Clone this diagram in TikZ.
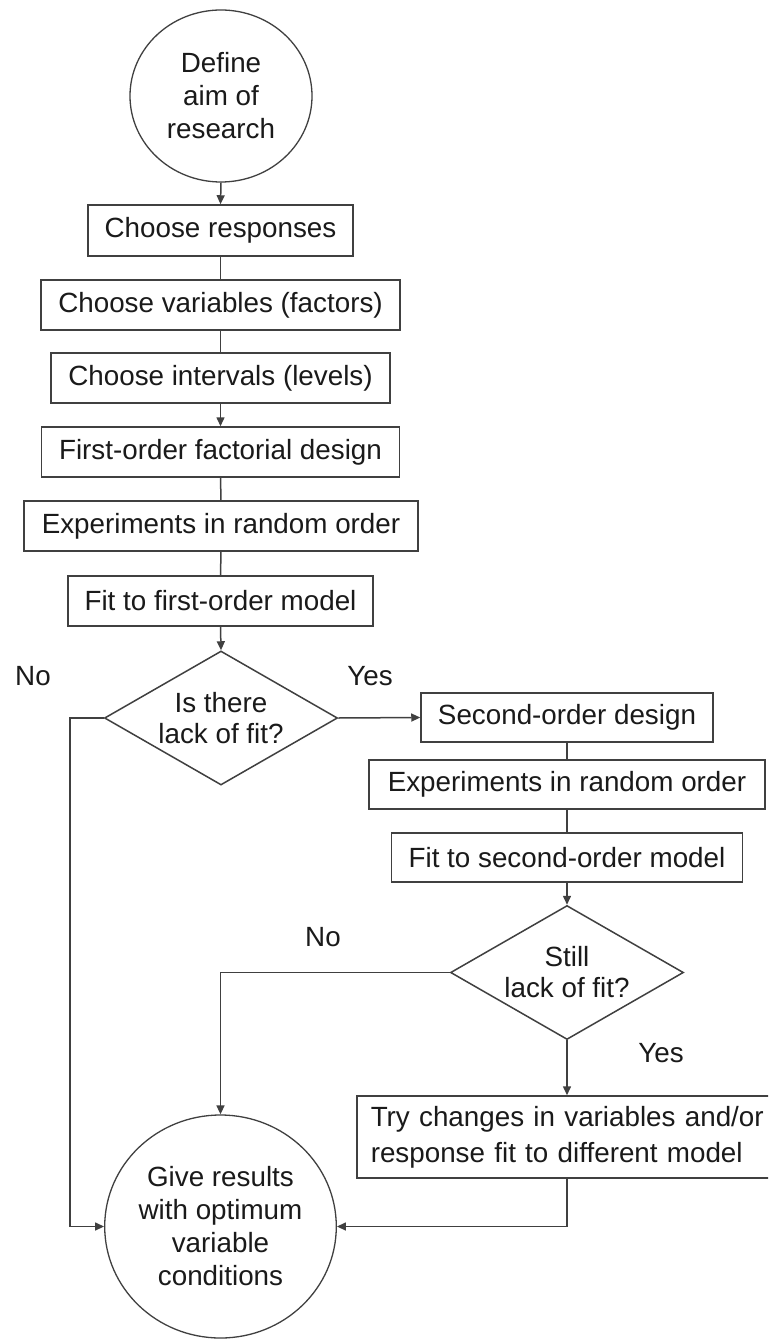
\documentclass[tikz,border=0pt]{standalone}
\usepackage{fontspec}
\setmainfont{Liberation Sans}
\usetikzlibrary{shapes.geometric,arrows.meta}
\definecolor{linec}{HTML}{404040}
\definecolor{textc}{HTML}{1A1A1A}
\begin{document}
\begin{tikzpicture}[x=1pt,y=-1pt,
  every node/.style={text=textc,font=\fontsize{27.8}{33}\selectfont},
  stepbox/.style={draw=linec,line width=1.5pt,rectangle,inner sep=0pt,align=center},
  decbox/.style={draw=linec,line width=1.5pt,diamond,aspect=1.74,inner sep=0pt,align=center,minimum width=233pt,minimum height=134pt},
  termbox/.style={draw=linec,line width=1.3pt,ellipse,inner sep=0pt,align=center},
  conn/.style={draw=linec,line width=1.5pt},
  arr/.style={conn,-{Triangle[length=9pt,width=8pt]}},
  lbl/.style={font=\fontsize{27.8}{33}\selectfont}]
\useasboundingbox (0,0) rectangle (768,1340);
\clip (0,0) rectangle (768,1340);
\fill[white] (0,0) rectangle (768,1340);

\node[termbox,minimum width=182pt,minimum height=172pt] (top) at (221,96) {Define\\aim of\\research};
\node[stepbox,minimum width=265pt,minimum height=51pt] (resp) at (220.5,230.5) {Choose responses};
\node[stepbox,minimum width=359pt,minimum height=50pt] (vars) at (220.5,305) {Choose variables (factors)};
\node[stepbox,minimum width=339pt,minimum height=50pt] (ints) at (220.5,378) {Choose intervals (levels)};
\node[stepbox,minimum width=358pt,minimum height=50pt] (first) at (220.5,452) {First-order factorial design};
\node[stepbox,minimum width=394pt,minimum height=50pt] (exp1) at (221,526) {Experiments in random order};
\node[stepbox,minimum width=305pt,minimum height=50pt] (fit1) at (220.5,601) {Fit to first-order model};
\node[decbox] (d1) at (221,718) {Is there\\[-2pt]lack of fit?};

\node[stepbox,minimum width=292pt,minimum height=49pt] (sec) at (567,717.5) {Second-order design};
\node[stepbox,minimum width=396pt,minimum height=49pt] (exp2) at (567,784.5) {Experiments in random order};
\node[stepbox,minimum width=351pt,minimum height=49pt] (fit2) at (567,857.5) {Fit to second-order model};
\node[decbox] (d2) at (567,972.5) {Still\\[-2pt]lack of fit?};
\node[stepbox,anchor=west,align=left,inner xsep=14pt,text width=400pt,minimum height=82pt,font=\fontsize{27.8}{36}\selectfont] (try) at (356,1137) {Try changes in variables and/or\\response fit to different model};

\node[termbox,minimum width=225pt,minimum height=223pt] (bot) at (220.5,1226.5) {Give results\\with optimum\\variable\\conditions};

\node[lbl] (no1) at (33,676) {No};
\node[lbl] (yes1) at (370,676) {Yes};
\node[lbl] (no2) at (323,937) {No};
\node[lbl] (yes2) at (661,1053) {Yes};

\coordinate (cL) at (70,1227);

\draw[arr] (top.south) -- (resp.north);
\draw[conn] (resp.south) -- (vars.north);
\draw[conn] (vars.south) -- (ints.north);
\draw[arr] (ints.south) -- (first.north);
\draw[conn] (first.south) -- (exp1.north);
\draw[conn] (exp1.south) -- (fit1.north);
\draw[arr] (fit1.south) -- (d1.north);
\draw[arr] (d1.east) -- (sec.west);
\draw[conn] (sec.south) -- (exp2.north);
\draw[conn] (exp2.south) -- (fit2.north);
\draw[arr] (fit2.south) -- (d2.north);
\draw[arr] (d2.south) -- (d2.south |- try.north);
\draw[arr] (d1.west) -- (d1.west -| cL) -- (cL |- bot.west) -- (bot.west);
\draw[arr] (d2.west) -| (bot.north);
\draw[arr] (d2.south |- try.south) -- (d2.south |- bot.east) -- (bot.east);
\end{tikzpicture}
\end{document}
